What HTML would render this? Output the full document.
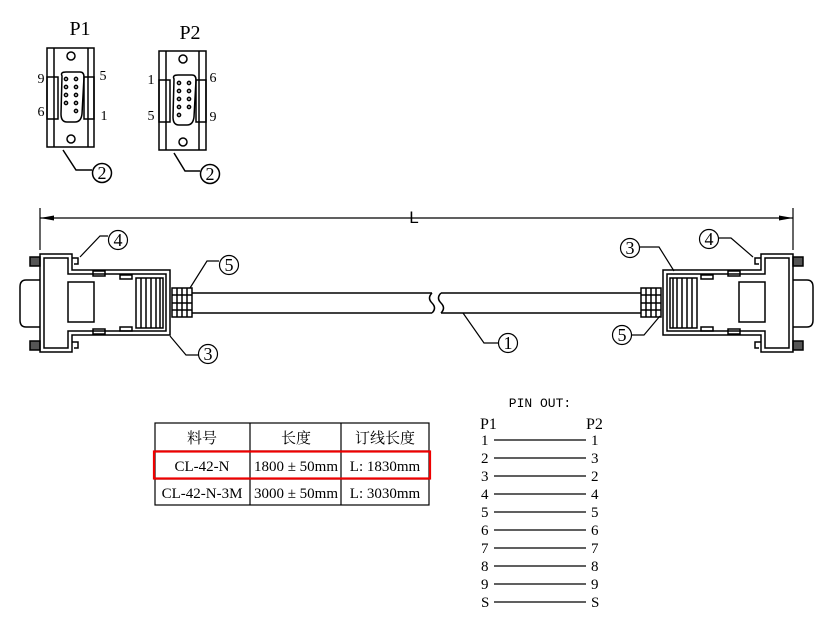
<!DOCTYPE html>
<html><head><meta charset="utf-8"><style>
html,body{margin:0;padding:0;background:#fff;}
svg{display:block;font-family:"Liberation Serif","Noto Serif CJK SC",serif;}
</style></head><body>
<svg width="830" height="632" viewBox="0 0 830 632" xmlns="http://www.w3.org/2000/svg">
<defs>
<g id="conn" fill="none" stroke="#000" stroke-width="1.5">
  <path d="M40,280 L26,280 Q20,280 20,287 L20,320 Q20,327 26,327 L40,327"/>
  <rect x="30" y="257" width="10" height="9" fill="#555"/>
  <rect x="30" y="341" width="10" height="9" fill="#555"/>
  <path d="M40,254 L72,254 L72,270 L170,270 L170,335 L72,335 L72,352 L40,352 Z"/>
  <path d="M44,258 L68,258 L68,274 L166,274 L166,331 L68,331 L68,348 L44,348 Z"/>
  <path d="M72,258 L78,258 L78,264 L74,264" />
  <path d="M72,342 L78,342 L78,348 L74,348" />
  <rect x="93" y="271" width="12" height="5"/>
  <rect x="120" y="275" width="12" height="4"/>
  <rect x="93" y="329" width="12" height="5"/>
  <rect x="120" y="327" width="12" height="4"/>
  <rect x="68" y="282" width="26" height="40"/>
  <rect x="136" y="278" width="27" height="50"/>
  <path d="M141,278V328M146,278V328M151,278V328M156,278V328M160,278V328"/>
  <rect x="172" y="288" width="20" height="29"/>
  <path d="M177,288V317M182,288V317M187,288V317M172,295H192M172,303H192M172,310H192"/>
</g>
</defs>
<g fill="none" stroke="#000" stroke-width="1.5">
  <rect x="47" y="48" width="47" height="99"/>
  <path d="M54,48V147M88,48V147"/>
  <rect x="47" y="77" width="11" height="42"/>
  <rect x="84" y="77" width="10" height="42"/>
  <path d="M62,76 Q60,72 66,72 L80,72 Q84,72 84,77 L82,114 Q81,122 75,122 L67,122 Q61,122 61,114 Z"/>
  <circle cx="71" cy="56" r="4"/><circle cx="71" cy="139" r="4"/>
  <circle cx="66" cy="79" r="1.6"/><circle cx="66" cy="87" r="1.6"/><circle cx="66" cy="95" r="1.6"/><circle cx="66" cy="103" r="1.6"/>
  <circle cx="76" cy="79" r="1.6"/><circle cx="76" cy="87" r="1.6"/><circle cx="76" cy="95" r="1.6"/><circle cx="76" cy="103" r="1.6"/><circle cx="76" cy="111" r="1.6"/>
  <path d="M63,150 L76,170 L92,170"/>
  <circle cx="102" cy="173" r="9.5"/>
</g>
<g fill="none" stroke="#000" stroke-width="1.5">
  <rect x="159" y="51" width="47" height="99"/>
  <path d="M166,51V150M199,51V150"/>
  <rect x="159" y="80" width="11" height="42"/>
  <rect x="196" y="80" width="10" height="42"/>
  <path d="M174,79 Q172,75 178,75 L192,75 Q196,75 196,80 L194,117 Q193,125 187,125 L179,125 Q173,125 173,117 Z"/>
  <circle cx="183" cy="59" r="4"/><circle cx="183" cy="142" r="4"/>
  <circle cx="179" cy="83" r="1.6"/><circle cx="179" cy="91" r="1.6"/><circle cx="179" cy="99" r="1.6"/><circle cx="179" cy="107" r="1.6"/><circle cx="179" cy="115" r="1.6"/>
  <circle cx="189" cy="83" r="1.6"/><circle cx="189" cy="91" r="1.6"/><circle cx="189" cy="99" r="1.6"/><circle cx="189" cy="107" r="1.6"/>
  <path d="M174,153 L185,171 L200,171"/>
  <circle cx="210" cy="174" r="9.5"/>
</g>
<g font-size="20" text-anchor="middle">
<text x="80" y="35">P1</text><text x="190" y="39">P2</text>
</g>
<g font-size="14" text-anchor="middle">
<text x="41" y="83">9</text><text x="41" y="116">6</text><text x="103" y="80">5</text><text x="104" y="120">1</text>
<text x="151" y="84">1</text><text x="151" y="120">5</text><text x="213" y="82">6</text><text x="213" y="121">9</text>
</g>
<g font-size="18" text-anchor="middle">
<text x="102" y="179">2</text><text x="210" y="180">2</text>
</g>
<g stroke="#000" stroke-width="1.2" fill="none">
<path d="M40,208V250M793,208V250M40,218H793"/>
</g>
<path d="M40,218 L54,215.5 L54,220.5Z M793,218 L779,215.5 L779,220.5Z" fill="#000"/>
<text x="414" y="223" font-size="17" text-anchor="middle" font-family="Liberation Sans,sans-serif">L</text>
<g stroke="#000" stroke-width="1.5" fill="none">
<path d="M192,293H432M192,313H432M441,293H641M441,313H641"/>
<path d="M432,293 Q427,298 432,303 Q437,308 432,313"/>
<path d="M441,293 Q436,298 441,303 Q446,308 441,313"/>
</g>
<use href="#conn"/>
<use href="#conn" transform="translate(833,0) scale(-1,1)"/>
<g stroke="#000" stroke-width="1.2" fill="none">
<circle cx="118" cy="240" r="9.5"/><path d="M108,236 L100,236 L80,257"/>
<circle cx="229" cy="265" r="9.5"/><path d="M219,261 L207,261 L190,288"/>
<circle cx="208" cy="354" r="9.5"/><path d="M198,355 L186,355 L170,336"/>
<circle cx="508" cy="343" r="9.5"/><path d="M498,343 L484,343 L463,313"/>
<circle cx="630" cy="248" r="9.5"/><path d="M640,247 L659,247 L674,271"/>
<circle cx="709" cy="239" r="9.5"/><path d="M719,238 L731,238 L753,257"/>
<circle cx="622" cy="335" r="9.5"/><path d="M632,335 L644,335 L660,316"/>
</g>
<g font-size="18" text-anchor="middle">
<text x="118" y="246">4</text><text x="229" y="271">5</text><text x="208" y="360">3</text><text x="508" y="349">1</text>
<text x="630" y="254">3</text><text x="709" y="245">4</text><text x="622" y="341">5</text>
</g>
<g stroke="#000" stroke-width="1.2" fill="none">
<rect x="155" y="423" width="274" height="82"/>
<path d="M155,451H429M155,479H429M250,423V505M341,423V505"/>
</g>
<rect x="154" y="451.5" width="276" height="27" fill="none" stroke="#e00" stroke-width="2.2"/>
<g font-size="15" text-anchor="middle">
<text x="202" y="443">料号</text><text x="296" y="443">长度</text><text x="385" y="443">订线长度</text>
<text x="202" y="471">CL-42-N</text><text x="296" y="471">1800 ± 50mm</text><text x="385" y="471">L: 1830mm</text>
<text x="202" y="498">CL-42-N-3M</text><text x="296" y="498">3000 ± 50mm</text><text x="385" y="498">L: 3030mm</text>
</g>
<text x="540" y="407" font-size="13" text-anchor="middle" font-family="Liberation Mono,monospace">PIN OUT:</text>
<g font-size="16">
<text x="480" y="429">P1</text><text x="586" y="429">P2</text>
</g>
<g font-size="15">
<text x="481" y="445">1</text><text x="591" y="445">1</text>
<text x="481" y="463">2</text><text x="591" y="463">3</text>
<text x="481" y="481">3</text><text x="591" y="481">2</text>
<text x="481" y="499">4</text><text x="591" y="499">4</text>
<text x="481" y="517">5</text><text x="591" y="517">5</text>
<text x="481" y="535">6</text><text x="591" y="535">6</text>
<text x="481" y="553">7</text><text x="591" y="553">7</text>
<text x="481" y="571">8</text><text x="591" y="571">8</text>
<text x="481" y="589">9</text><text x="591" y="589">9</text>
<text x="481" y="607">S</text><text x="591" y="607">S</text>
</g>
<g stroke="#000" stroke-width="1.3">
<path d="M494,440H586M494,458H586M494,476H586M494,494H586M494,512H586M494,530H586M494,548H586M494,566H586M494,584H586M494,602H586"/>
</g>
</svg>
</body></html>
